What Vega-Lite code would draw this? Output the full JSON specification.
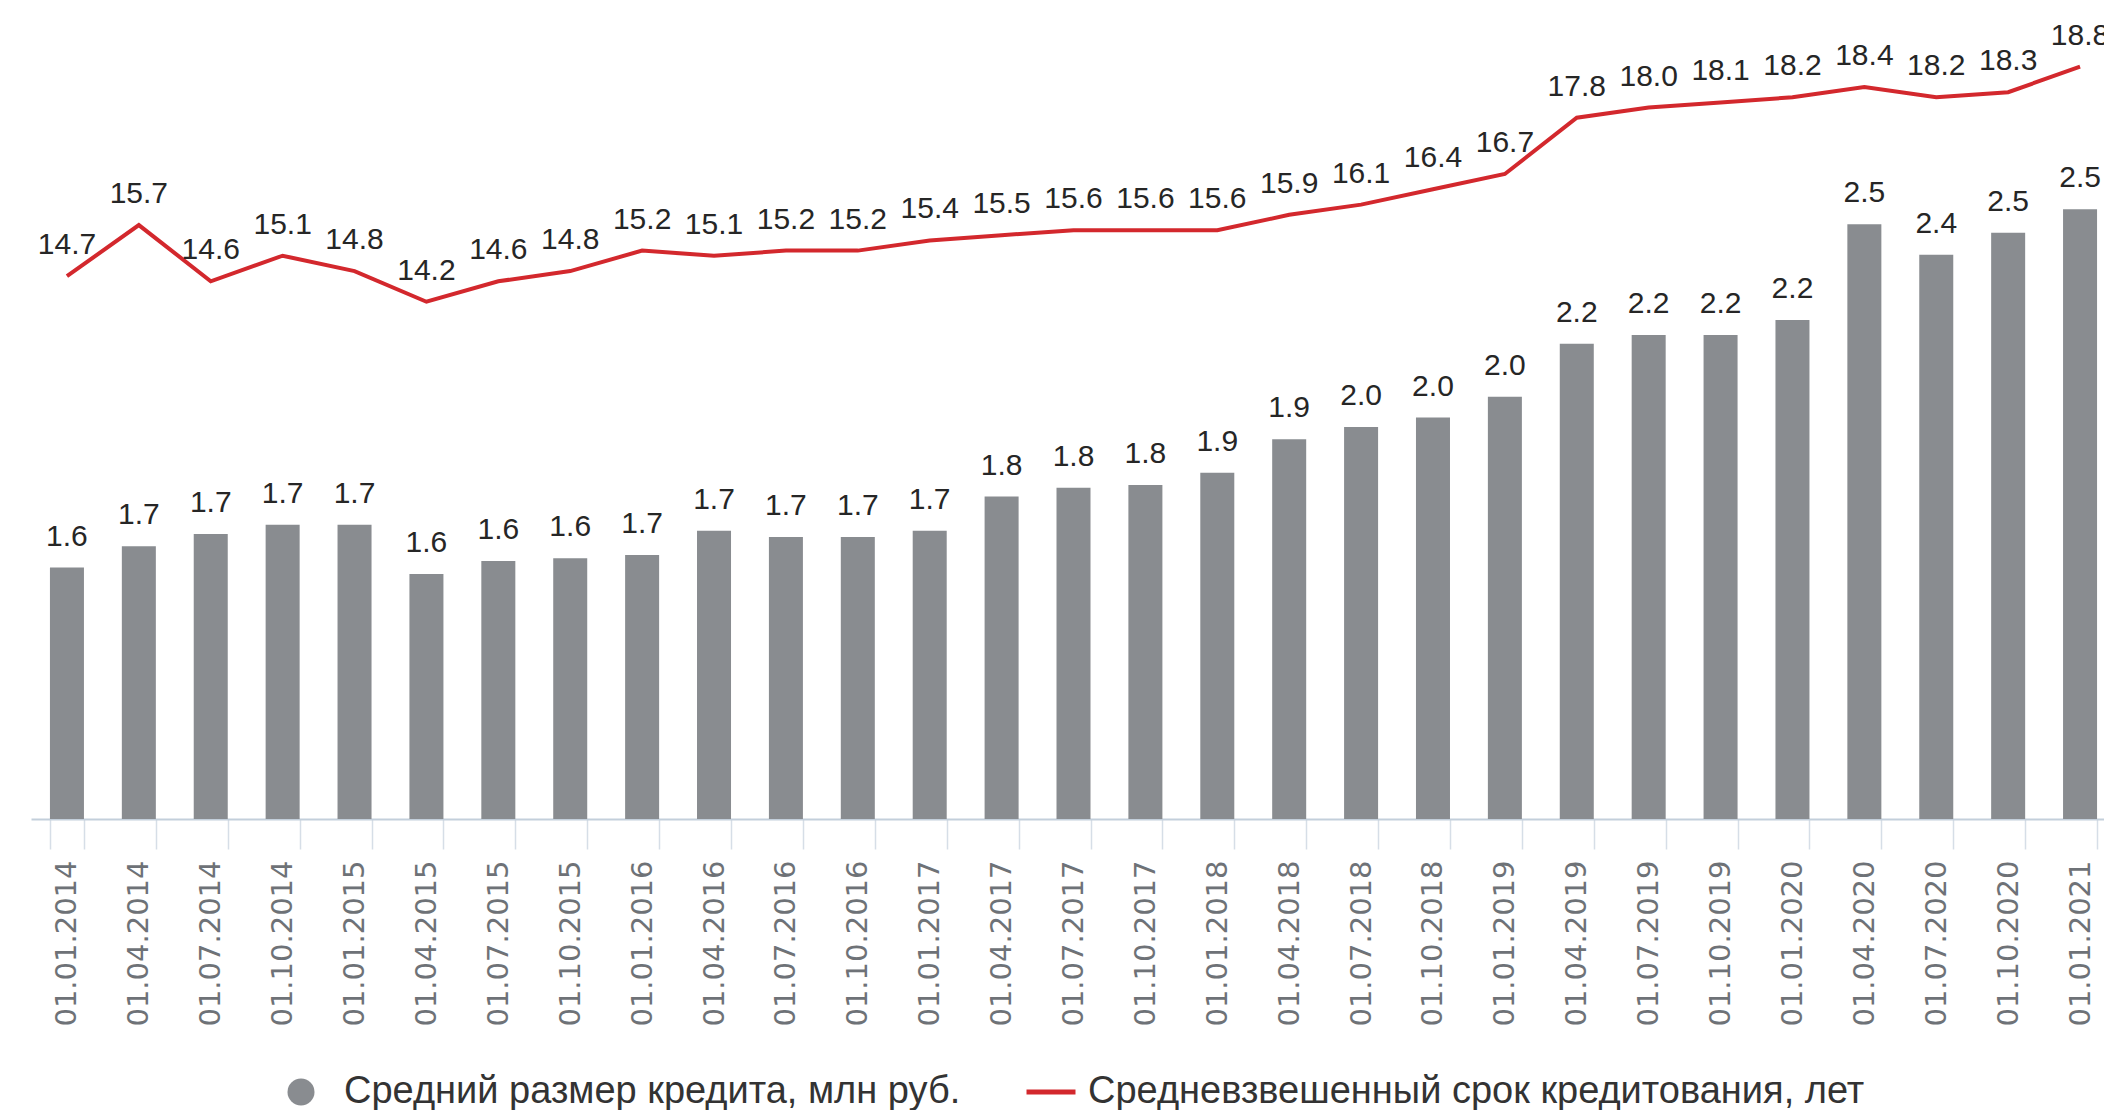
{
  "$schema": "https://vega.github.io/schema/vega-lite/v6.json",
  "width": 2073,
  "height": 806,
  "autosize": {"type": "none"},
  "padding": {"left": 31, "top": 13, "right": 0, "bottom": 291},
  "background": "white",
  "config": {"view": {"stroke": null}, "font": "Liberation Sans"},
  "data": {
    "values": [
      {"date": "01.01.2014", "size": 1.624, "term": 14.7},
      {"date": "01.04.2014", "size": 1.677, "term": 15.7},
      {"date": "01.07.2014", "size": 1.707, "term": 14.6},
      {"date": "01.10.2014", "size": 1.730, "term": 15.1},
      {"date": "01.01.2015", "size": 1.730, "term": 14.8},
      {"date": "01.04.2015", "size": 1.608, "term": 14.2},
      {"date": "01.07.2015", "size": 1.640, "term": 14.6},
      {"date": "01.10.2015", "size": 1.647, "term": 14.8},
      {"date": "01.01.2016", "size": 1.655, "term": 15.2},
      {"date": "01.04.2016", "size": 1.715, "term": 15.1},
      {"date": "01.07.2016", "size": 1.700, "term": 15.2},
      {"date": "01.10.2016", "size": 1.700, "term": 15.2},
      {"date": "01.01.2017", "size": 1.715, "term": 15.4},
      {"date": "01.04.2017", "size": 1.800, "term": 15.5},
      {"date": "01.07.2017", "size": 1.822, "term": 15.6},
      {"date": "01.10.2017", "size": 1.829, "term": 15.6},
      {"date": "01.01.2018", "size": 1.859, "term": 15.6},
      {"date": "01.04.2018", "size": 1.942, "term": 15.9},
      {"date": "01.07.2018", "size": 1.973, "term": 16.1},
      {"date": "01.10.2018", "size": 1.996, "term": 16.4},
      {"date": "01.01.2019", "size": 2.048, "term": 16.7},
      {"date": "01.04.2019", "size": 2.179, "term": 17.8},
      {"date": "01.07.2019", "size": 2.201, "term": 18.0},
      {"date": "01.10.2019", "size": 2.201, "term": 18.1},
      {"date": "01.01.2020", "size": 2.238, "term": 18.2},
      {"date": "01.04.2020", "size": 2.476, "term": 18.4},
      {"date": "01.07.2020", "size": 2.400, "term": 18.2},
      {"date": "01.10.2020", "size": 2.455, "term": 18.3},
      {"date": "01.01.2021", "size": 2.513, "term": 18.8}
    ]
  },
  "encoding": {
    "x": {
      "field": "date",
      "type": "ordinal",
      "sort": null,
      "scale": {"range": [0, 2085], "paddingInner": 0.527, "paddingOuter": 0.2635},
      "axis": {
        "title": null,
        "labelAngle": -90,
        "labelAlign": "right",
        "labelBaseline": "middle",
        "labelFont": "DejaVu Sans",
        "labelFontSize": 29,
        "labelColor": "#6e7277",
        "labelPadding": 11,
        "labelOverlap": false,
        "labelBound": false,
        "tickSize": 30,
        "tickBand": "extent",
        "tickColor": "#d6dee7",
        "tickWidth": 1.5,
        "domainColor": "#c3cfdb",
        "domainWidth": 2
      }
    }
  },
  "layer": [
    {
      "encoding": {
        "y": {"field": "size", "type": "quantitative", "scale": {"domain": [1, 3], "zero": false, "nice": false}, "axis": null}
      },
      "layer": [
        {
          "mark": {"type": "bar"},
          "encoding": {
            "y2": {"datum": 1},
            "color": {
              "datum": "Средний размер кредита, млн руб.",
              "type": "nominal",
              "scale": {"range": ["#898c90"]},
              "legend": {
                "orient": "none",
                "legendX": 251,
                "legendY": 1060,
                "title": null,
                "symbolType": "circle",
                "symbolSize": 729,
                "symbolStrokeWidth": 0,
                "labelFont": "Liberation Sans",
                "labelFontSize": 38,
                "labelColor": "#333333",
                "labelOffset": 24,
                "labelLimit": 0
              }
            }
          }
        },
        {
          "mark": {"type": "text", "baseline": "alphabetic", "dy": -22, "fontSize": 30, "font": "Liberation Sans", "color": "#262626"},
          "encoding": {"text": {"field": "size", "type": "quantitative", "format": ".1f"}}
        }
      ]
    },
    {
      "encoding": {
        "y": {"field": "term", "type": "quantitative", "scale": {"domain": [4.077, 19.85], "zero": false, "nice": false}, "axis": null}
      },
      "layer": [
        {
          "mark": {"type": "line", "strokeWidth": 4},
          "encoding": {
            "stroke": {
              "datum": "Средневзвешенный срок кредитования, лет",
              "type": "nominal",
              "scale": {"range": ["#d3282d"]},
              "legend": {
                "orient": "none",
                "legendX": 993,
                "legendY": 1052,
                "title": null,
                "symbolType": "stroke",
                "symbolSize": 2400,
                "symbolStrokeWidth": 5,
                "labelFont": "Liberation Sans",
                "labelFontSize": 38,
                "labelColor": "#333333",
                "labelOffset": 10,
                "labelLimit": 0
              }
            }
          }
        },
        {
          "mark": {"type": "text", "baseline": "alphabetic", "dy": -22, "fontSize": 30, "font": "Liberation Sans", "color": "#262626"},
          "encoding": {"text": {"field": "term", "type": "quantitative", "format": ".1f"}}
        }
      ]
    }
  ],
  "resolve": {"scale": {"y": "independent"}}
}
